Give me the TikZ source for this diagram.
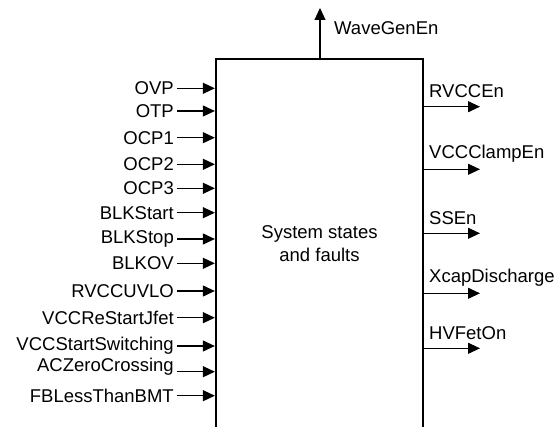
\documentclass[tikz,border=0pt]{standalone}
\usepackage{fontspec}
\setmainfont{Liberation Sans}
\usetikzlibrary{arrows.meta}

\begin{document}
\begin{tikzpicture}[x=1pt, y=-1pt,
  sig/.style={-{Triangle[length=12pt,width=11pt]}, line width=1.1pt},
  lbl/.style={font=\fontsize{18.5}{23}\selectfont, inner sep=0pt}]
\useasboundingbox (0,0) rectangle (556,427);

% Main block
\node[draw, line width=2.3pt, minimum width=207pt, minimum height=369pt, lbl, align=center] (sys) at (319.5,243.5) {System states\\and faults};

% Inputs (name / text y / arrow y)
\foreach \name/\ty/\ay [count=\i] in {OVP/88.3/88.3, OTP/111/111, OCP1/137.7/137.7, OCP2/164.3/164.3, OCP3/188.3/188.3, BLKStart/212.7/212.7, BLKStop/239/239, BLKOV/263.3/263.3, RVCCUVLO/291/291, VCCReStartJfet/317.7/317.7, VCCStartSwitching/346/346, ACZeroCrossing/367/371.7, FBLessThanBMT/395.7/395.7} {
  \node[lbl, anchor=east] (in\i) at (174,\ty) {\name};
  \coordinate (src\i) at (177,\ay);
  \draw[sig] (src\i) -- (src\i -| sys.west);
}

% Outputs
\foreach \name/\ay [count=\i] in {RVCCEn/106.7, VCCClampEn/169.3, SSEn/233.3, XcapDischarge/293.3, HVFetOn/348.3} {
  \coordinate (dst\i) at (480,\ay);
  \draw[sig] (sys.east |- dst\i) -- (dst\i);
  \node[lbl, anchor=west] (out\i) at (429,\ay-15.5) {\name};
}

% Top output
\coordinate (wave) at (320,8);
\draw[sig] (sys.north -| wave) -- (wave);
\node[lbl, anchor=west] (wavelbl) at (334,28) {WaveGenEn};
\end{tikzpicture}
\end{document}
